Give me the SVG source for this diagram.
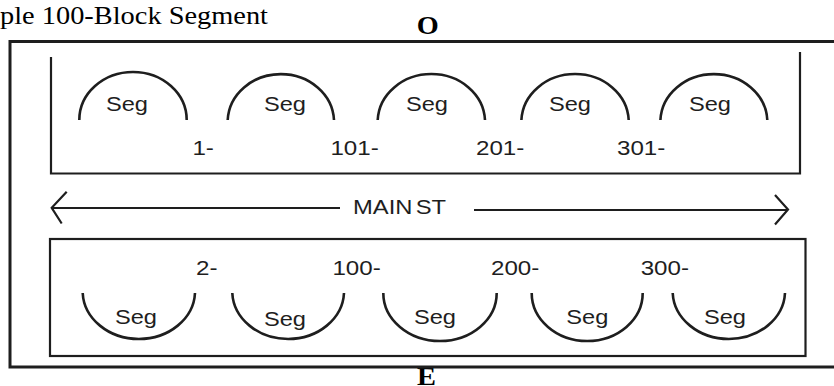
<svg xmlns="http://www.w3.org/2000/svg" width="834" height="386" viewBox="0 0 834 386">
  <style>
    .ln { fill: none; stroke: #1e1e1e; stroke-width: 2.2; }
    .outer { fill: none; stroke: #1e1e1e; stroke-width: 3; }
    .arc { fill: none; stroke: #1e1e1e; stroke-width: 2.6; }
    .sans { font-family: "Liberation Sans", Arial, sans-serif; font-size: 21px; fill: #1e1e1e; }
    .serif { font-family: "Liberation Serif", "Times New Roman", serif; font-size: 25px; fill: #000; }
    .bold { font-weight: bold; }
  </style>
  <rect x="0" y="0" width="834" height="386" fill="#ffffff"/>

  <g id="title">
    <text class="serif" x="0" y="24" textLength="268" lengthAdjust="spacingAndGlyphs">ple 100-Block Segment</text>
  </g>
  <g id="label-O">
    <text class="serif bold" x="427.7" y="33.5" text-anchor="middle" textLength="22" lengthAdjust="spacingAndGlyphs">O</text>
  </g>
  <g id="label-E">
    <text class="serif bold" x="417" y="385" textLength="19" lengthAdjust="spacingAndGlyphs">E</text>
  </g>

  <g id="outer-frame">
    <path class="outer" d="M834,41.5 H10 V367 H834"/>
  </g>

  <g id="odd-side">
    <path class="ln" d="M51,57 V173.5 H800 V52"/>
    <g id="seg-odd-1">
      <path class="arc" d="M79.3,120 A53.7,48 0 0 1 186.7,120"/>
      <text class="sans" x="106" y="110.5" textLength="42" lengthAdjust="spacingAndGlyphs">Seg</text>
    </g>
    <g id="seg-odd-2">
      <path class="arc" d="M227.7,120 A53.2,48 0 0 1 334,120"/>
      <text class="sans" x="264" y="110.5" textLength="42" lengthAdjust="spacingAndGlyphs">Seg</text>
    </g>
    <g id="seg-odd-3">
      <path class="arc" d="M377.7,120 A53.7,48 0 0 1 485,120"/>
      <text class="sans" x="406" y="110.5" textLength="42" lengthAdjust="spacingAndGlyphs">Seg</text>
    </g>
    <g id="seg-odd-4">
      <path class="arc" d="M521.4,120 A53.7,48 0 0 1 628.7,120"/>
      <text class="sans" x="549" y="110.5" textLength="42" lengthAdjust="spacingAndGlyphs">Seg</text>
    </g>
    <g id="seg-odd-5">
      <path class="arc" d="M660.4,120 A53.5,48 0 0 1 767.3,120"/>
      <text class="sans" x="689" y="110.5" textLength="42" lengthAdjust="spacingAndGlyphs">Seg</text>
    </g>
    <g id="num-odd">
      <text class="sans" x="192.4" y="155" textLength="21.5" lengthAdjust="spacingAndGlyphs">1-</text>
      <text class="sans" x="330.4" y="155" textLength="48.3" lengthAdjust="spacingAndGlyphs">101-</text>
      <text class="sans" x="476" y="155" textLength="48.3" lengthAdjust="spacingAndGlyphs">201-</text>
      <text class="sans" x="617" y="155" textLength="48.3" lengthAdjust="spacingAndGlyphs">301-</text>
    </g>
  </g>

  <g id="even-side">
    <rect class="ln" x="50" y="239" width="755.5" height="117"/>
    <g id="seg-even-1">
      <path class="arc" d="M82.7,293 A56.2,48 0 0 0 195,293"/>
      <text class="sans" x="115" y="323.5" textLength="42" lengthAdjust="spacingAndGlyphs">Seg</text>
    </g>
    <g id="seg-even-2">
      <path class="arc" d="M232.3,293 A55.9,48 0 0 0 344,293"/>
      <text class="sans" x="264" y="325.5" textLength="42" lengthAdjust="spacingAndGlyphs">Seg</text>
    </g>
    <g id="seg-even-3">
      <path class="arc" d="M383.3,293 A56.7,48 0 0 0 496.7,293"/>
      <text class="sans" x="414" y="323.5" textLength="42" lengthAdjust="spacingAndGlyphs">Seg</text>
    </g>
    <g id="seg-even-4">
      <path class="arc" d="M531.7,293 A55.5,48 0 0 0 642.7,293"/>
      <text class="sans" x="566.3" y="323.5" textLength="42" lengthAdjust="spacingAndGlyphs">Seg</text>
    </g>
    <g id="seg-even-5">
      <path class="arc" d="M672.7,293 A56.2,48 0 0 0 785,293"/>
      <text class="sans" x="704" y="323.5" textLength="42" lengthAdjust="spacingAndGlyphs">Seg</text>
    </g>
    <g id="num-even">
      <text class="sans" x="196" y="275" textLength="21.5" lengthAdjust="spacingAndGlyphs">2-</text>
      <text class="sans" x="332.4" y="275" textLength="48.3" lengthAdjust="spacingAndGlyphs">100-</text>
      <text class="sans" x="491" y="275" textLength="48.3" lengthAdjust="spacingAndGlyphs">200-</text>
      <text class="sans" x="640.7" y="275" textLength="48.3" lengthAdjust="spacingAndGlyphs">300-</text>
    </g>
  </g>

  <g id="connectors">
    <g id="main-st">
      <path class="ln" d="M51,208 H340"/>
      <path class="ln" d="M66.7,191.7 L51.7,207.8 L61.7,223.5"/>
      <path class="ln" d="M474,210 H788"/>
      <path class="ln" d="M775,195 L788,209.5 L775,224.5"/>
      <text class="sans" x="353" y="213.5" font-size="20" word-spacing="-3" textLength="93" lengthAdjust="spacingAndGlyphs">MAIN ST</text>
    </g>
  </g>
</svg>
